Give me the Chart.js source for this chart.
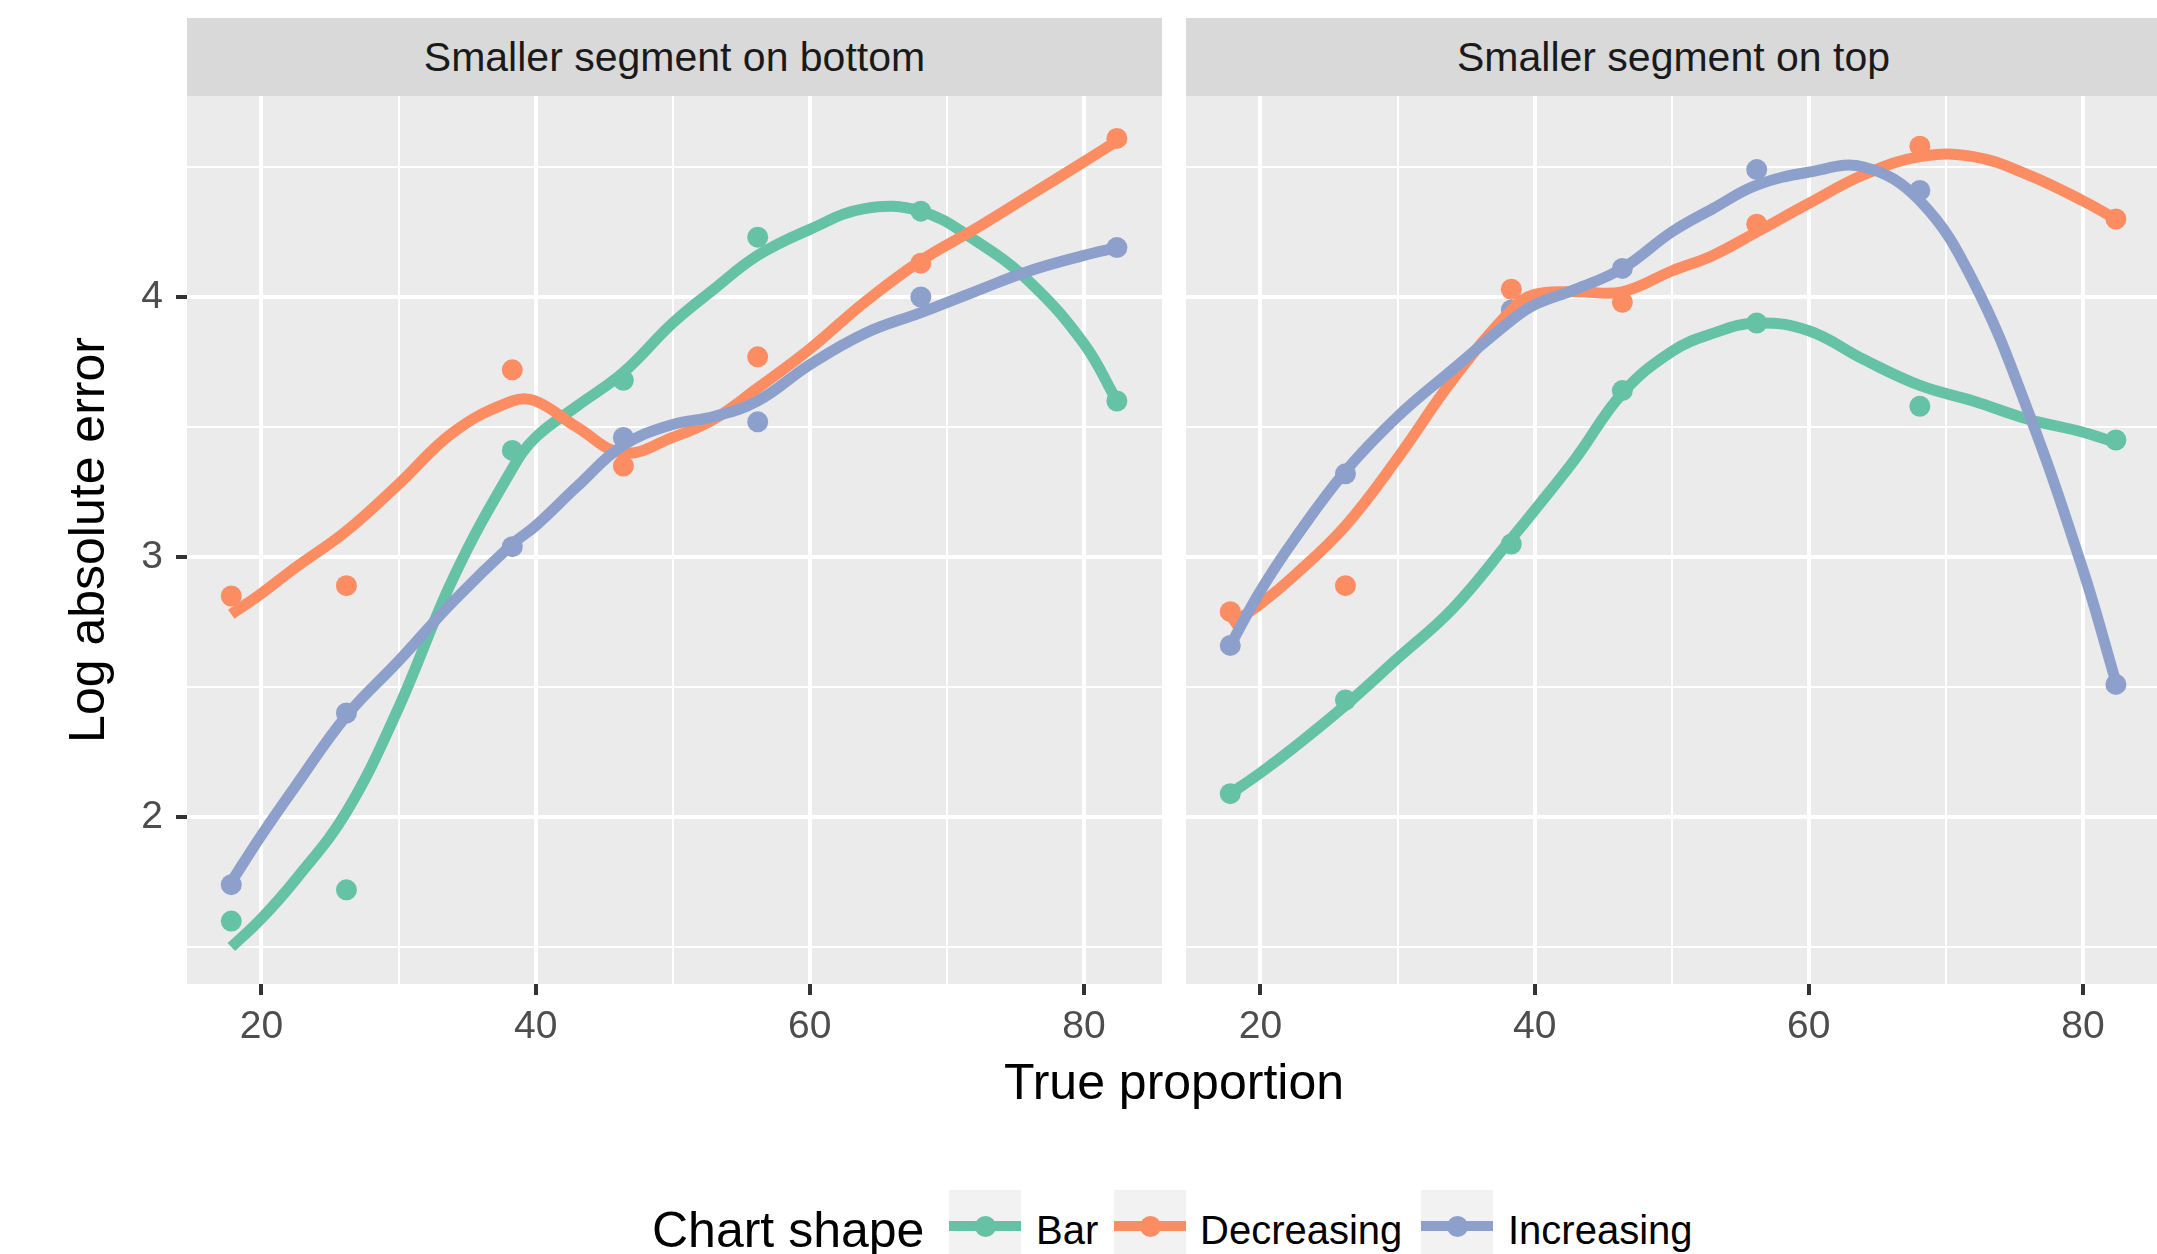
<!DOCTYPE html>
<html>
<head>
<meta charset="utf-8">
<title>Log absolute error by true proportion</title>
<script src="https://cdn.jsdelivr.net/npm/chart.js@4.4.0/dist/chart.umd.min.js"></script>
<style>
  html, body { margin: 0; padding: 0; background: #fff; }
  body {
    width: 2157px; height: 1254px; position: relative; overflow: hidden;
    font-family: "Liberation Sans", Arial, Helvetica, sans-serif;
  }
  .panel { position: absolute; }
  .strip {
    position: absolute; top: 18px; height: 78px; line-height: 78px;
    background: #D9D9D9; color: #1A1A1A; font-size: 41px; text-align: center;
  }
  .txt { position: absolute; white-space: nowrap; color: #000; }
  .key { position: absolute; top: 1190px; width: 72px; height: 72px; background: #F2F2F2; }
  .key .ln { position: absolute; left: 0; top: 31px; width: 72px; height: 10px; }
  .key .dot { position: absolute; left: 25.5px; top: 25.5px; width: 21px; height: 21px; border-radius: 50%; }
</style>
</head>
<body>

<div class="panel" style="left:0;top:18px;width:1162px;height:1038px"><canvas id="chartBottom"></canvas></div>
<div class="panel" style="left:1186px;top:18px;width:975px;height:1038px"><canvas id="chartTop"></canvas></div>

<div class="strip" style="left:187px;width:975px">Smaller segment on bottom</div>
<div class="strip" style="left:1186px;width:975px">Smaller segment on top</div>

<div class="txt" style="left:-213px;top:510px;width:600px;height:60px;line-height:60px;font-size:50px;text-align:center;transform:rotate(-90deg)">Log absolute error</div>
<div class="txt" style="left:874px;top:1052px;width:600px;line-height:60px;font-size:50px;text-align:center">True proportion</div>

<div class="txt" style="left:652px;top:1200px;line-height:60px;font-size:50px">Chart shape</div>
<div id="legend"></div>

<script>
// Valores
var seriesNames = ['Bar', 'Decreasing', 'Increasing'];
var seriesColors = ['#66C2A5', '#FC8D62', '#8DA0CB'];

var pointX = [17.8, 26.2, 38.3, 46.4, 56.2, 68.1, 82.4];

// Panel "Smaller segment on bottom"
var barBottom = [1.60, 1.72, 3.41, 3.68, 4.23, 4.33, 3.60];
var decBottom = [2.85, 2.89, 3.72, 3.35, 3.77, 4.13, 4.61];
var incBottom = [1.74, 2.40, 3.04, 3.46, 3.52, 4.00, 4.19];

// Panel "Smaller segment on top"
var barTop = [2.09, 2.45, 3.05, 3.64, 3.90, 3.58, 3.45];
var decTop = [2.79, 2.89, 4.03, 3.98, 4.28, 4.58, 4.30];
var incTop = [2.66, 3.32, 3.95, 4.11, 4.49, 4.41, 2.51];

var smoothX = [17.8, 20, 22.5, 26.2, 30, 34, 38.3, 40, 43, 46.4, 50, 53, 56.2, 60, 64, 68.1, 72, 76, 80, 82.4];

var barBottomFit = [1.50, 1.61, 1.76, 2.02, 2.42, 2.92, 3.34, 3.46, 3.58, 3.71, 3.90, 4.03, 4.16, 4.26, 4.34, 4.33, 4.22, 4.06, 3.82, 3.60];
var decBottomFit = [2.78, 2.86, 2.96, 3.10, 3.28, 3.48, 3.60, 3.60, 3.50, 3.40, 3.46, 3.53, 3.65, 3.80, 3.98, 4.14, 4.26, 4.39, 4.52, 4.60];
var incBottomFit = [1.75, 1.93, 2.12, 2.39, 2.60, 2.83, 3.05, 3.12, 3.27, 3.43, 3.51, 3.54, 3.60, 3.74, 3.86, 3.94, 4.02, 4.10, 4.16, 4.19];

var barTopFit = [2.09, 2.17, 2.27, 2.43, 2.61, 2.80, 3.07, 3.18, 3.38, 3.63, 3.79, 3.86, 3.90, 3.87, 3.76, 3.66, 3.60, 3.53, 3.48, 3.44];
var decTopFit = [2.74, 2.82, 2.93, 3.12, 3.38, 3.68, 3.95, 4.01, 4.02, 4.02, 4.10, 4.16, 4.25, 4.36, 4.47, 4.54, 4.54, 4.47, 4.37, 4.30];
var incTopFit = [2.66, 2.87, 3.07, 3.33, 3.54, 3.72, 3.91, 3.97, 4.03, 4.11, 4.25, 4.34, 4.43, 4.48, 4.50, 4.37, 4.06, 3.56, 2.95, 2.52];

// Ejes
var xTicks = [20, 30, 40, 50, 60, 70, 80];
var yTicks = [1.5, 2, 2.5, 3, 3.5, 4, 4.5];
var xRange = [14.57, 85.69];
var yRange = [1.358, 4.773];

var tickFont = { family: '"Liberation Sans", Arial, sans-serif', size: 39 };

// Fondo gris del panel
var panelBg = {
  id: 'panelBg',
  beforeDraw: function (chart) {
    var a = chart.chartArea, c = chart.ctx;
    c.save();
    c.fillStyle = '#EBEBEB';
    c.fillRect(a.left, a.top, a.right - a.left, a.bottom - a.top);
    c.restore();
  }
};

function isMajorX(v) { return v % 20 === 0; }
function isMajorY(v) { return v % 1 === 0; }

function buildDatasets(points, fits) {
  var ds = [];
  for (var i = 0; i < seriesNames.length; i++) {
    ds.push({
      label: seriesNames[i],
      data: pointX.map(function (x, j) { return { x: x, y: points[i][j] }; }),
      showLine: false,
      pointRadius: 10.5,
      pointHoverRadius: 10.5,
      pointBorderWidth: 0,
      pointBackgroundColor: seriesColors[i],
      order: 6 - i
    });
    ds.push({
      label: seriesNames[i] + ' (loess)',
      data: smoothX.map(function (x, j) { return { x: x, y: fits[i][j] }; }),
      showLine: true,
      borderColor: seriesColors[i],
      borderWidth: 11,
      borderJoinStyle: 'round',
      pointRadius: 0,
      tension: 0.4,
      order: 3 - i
    });
  }
  return ds;
}

function buildConfig(points, fits, showY) {
  return {
    type: 'scatter',
    data: { datasets: buildDatasets(points, fits) },
    plugins: [panelBg],
    options: {
      responsive: true,
      maintainAspectRatio: false,
      animation: false,
      events: [],
      layout: { autoPadding: false, padding: { top: 78, left: 0, right: 0, bottom: 0 } },
      plugins: { legend: { display: false }, tooltip: { enabled: false } },
      scales: {
        x: {
          type: 'linear',
          min: xRange[0],
          max: xRange[1],
          afterBuildTicks: function (s) { s.ticks = xTicks.map(function (v) { return { value: v }; }); },
          afterFit: function (s) { s.height = 72; },
          border: { display: false },
          grid: {
            color: '#FFFFFF',
            lineWidth: function (c) { return isMajorX(c.tick.value) ? 4 : 2; },
            tickColor: function (c) { return isMajorX(c.tick.value) ? '#333333' : 'rgba(0,0,0,0)'; },
            tickWidth: 4,
            tickLength: 11
          },
          ticks: {
            autoSkip: false,
            maxRotation: 0,
            padding: 9,
            color: '#4D4D4D',
            font: tickFont,
            callback: function (v) { return isMajorX(v) ? String(v) : ''; }
          }
        },
        y: {
          type: 'linear',
          min: yRange[0],
          max: yRange[1],
          afterBuildTicks: function (s) { s.ticks = yTicks.map(function (v) { return { value: v }; }); },
          afterFit: function (s) { s.width = showY ? 187 : 0; },
          border: { display: false },
          grid: {
            color: '#FFFFFF',
            lineWidth: function (c) { return isMajorY(c.tick.value) ? 4 : 2; },
            tickColor: function (c) { return isMajorY(c.tick.value) ? '#333333' : 'rgba(0,0,0,0)'; },
            tickWidth: 4,
            tickLength: 11,
            drawTicks: showY
          },
          ticks: {
            display: showY,
            autoSkip: false,
            padding: 13,
            color: '#4D4D4D',
            font: tickFont,
            callback: function (v) { return isMajorY(v) ? String(v) : ''; }
          }
        }
      }
    }
  };
}

new Chart(document.getElementById('chartBottom').getContext('2d'),
  buildConfig([barBottom, decBottom, incBottom], [barBottomFit, decBottomFit, incBottomFit], true));

new Chart(document.getElementById('chartTop').getContext('2d'),
  buildConfig([barTop, decTop, incTop], [barTopFit, decTopFit, incTopFit], false));

// Leyenda
var keyLeft = [949, 1114, 1421];
var labelLeft = [1036, 1200, 1508];
var legend = document.getElementById('legend');
seriesNames.forEach(function (name, i) {
  var key = document.createElement('div');
  key.className = 'key';
  key.style.left = keyLeft[i] + 'px';
  key.innerHTML = '<div class="ln" style="background:' + seriesColors[i] + '"></div>' +
                  '<div class="dot" style="background:' + seriesColors[i] + '"></div>';
  legend.appendChild(key);
  var lab = document.createElement('div');
  lab.className = 'txt';
  lab.style.left = labelLeft[i] + 'px';
  lab.style.top = '1205px';
  lab.style.lineHeight = '50px';
  lab.style.fontSize = '40px';
  lab.textContent = name;
  legend.appendChild(lab);
});
</script>
</body>
</html>
